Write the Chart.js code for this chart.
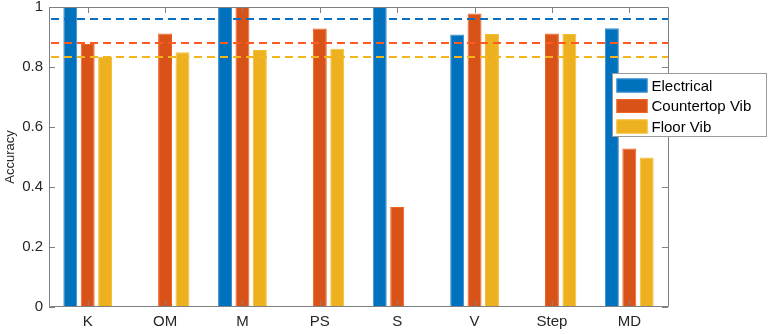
<!DOCTYPE html>
<html><head><meta charset="utf-8">
<script src="https://cdn.jsdelivr.net/npm/chart.js@4/dist/chart.umd.min.js"></script>
<style>html,body{margin:0;padding:0;background:#fff}#wrap{width:768px;height:334px}</style>
</head><body><div id="wrap"><canvas id="c" width="768" height="334"></canvas></div>
<script>
const categories = ['K','OM','M','PS','S','V','Step','MD'];
const seriesNames = ['Electrical','Countertop Vib','Floor Vib'];
const electrical = [1, 0, 1, 0, 1, 0.908, 0, 0.929];
const countertop = [0.877, 0.912, 1, 0.928, 0.333, 0.978, 0.912, 0.528];
const floorVib = [0.834, 0.849, 0.857, 0.861, 0, 0.910, 0.910, 0.498];
const referenceLines = [0.960, 0.879, 0.832];
const yTicks = [0, 0.2, 0.4, 0.6, 0.8, 1];

const fills = ['#0072BD','#D95319','#EDB120'];
const edges = ['#3F8FD0','#F0601E','#F5BE30'];
const dashCols = ['#0A6FC0','#FF5A22','#F2B51C'];
const values = [electrical, countertop, floorVib];

const datasets = values.map((v,i)=>({
  label:seriesNames[i], data:v,
  backgroundColor:fills[i], borderColor:edges[i], borderWidth:1,
  borderSkipped:false, categoryPercentage:0.675, barPercentage:0.8
}));

const FONT = '"Liberation Sans", Arial, sans-serif';

const boxPlugin = {
  id:'boxPlugin',
  afterDatasetsDraw(chart){
    const ctx=chart.ctx, a=chart.chartArea, x=chart.scales.x, y=chart.scales.y;
    ctx.save();
    ctx.beginPath(); ctx.rect(a.left,a.top,a.right-a.left,a.bottom-a.top); ctx.clip();
    referenceLines.forEach((r,i)=>{
      const py=Math.round(y.getPixelForValue(r));
      ctx.strokeStyle=dashCols[i]; ctx.lineWidth=2; ctx.setLineDash([8,5]);
      ctx.beginPath(); ctx.moveTo(a.left+2,py); ctx.lineTo(a.right,py); ctx.stroke();
    });
    ctx.restore();
    ctx.save();
    ctx.setLineDash([]);
    ctx.strokeStyle='#808080'; ctx.lineWidth=1;
    ctx.beginPath();
    ctx.rect(Math.round(a.left)+0.5, Math.round(a.top)+0.5, Math.round(a.right-a.left), Math.round(a.bottom-a.top)-1);
    ctx.stroke();
    const L=6;
    ctx.beginPath();
    categories.forEach((c,i)=>{
      const px=Math.round(x.getPixelForValue(i))+0.5;
      ctx.moveTo(px,a.bottom); ctx.lineTo(px,a.bottom-L);
      ctx.moveTo(px,a.top); ctx.lineTo(px,a.top+L);
    });
    yTicks.forEach(t=>{
      const py=Math.round(y.getPixelForValue(t))+0.5;
      ctx.moveTo(a.left,py); ctx.lineTo(a.left+L,py);
      ctx.moveTo(a.right,py); ctx.lineTo(a.right-L,py);
    });
    ctx.stroke();
    ctx.restore();
  },
  afterDraw(chart){
    const ctx=chart.ctx;
    const bx=612.5, by=73.5, bw=154, bh=63;
    ctx.save();
    ctx.fillStyle='#fff'; ctx.fillRect(bx,by,bw,bh);
    ctx.strokeStyle='#9a9a9a'; ctx.lineWidth=1; ctx.strokeRect(bx,by,bw,bh);
    ctx.font='15px '+FONT; ctx.textBaseline='middle'; ctx.textAlign='left';
    for(let i=0;i<3;i++){
      const ds=chart.data.datasets[i];
      const cy=by+12+i*20.5;
      ctx.fillStyle=ds.backgroundColor; ctx.fillRect(bx+4,cy-7,31,14);
      ctx.strokeStyle=ds.borderColor; ctx.strokeRect(bx+4.5,cy-6.5,30,13);
      ctx.fillStyle='#000'; ctx.fillText(ds.label,bx+39,cy+1);
    }
    ctx.restore();
  }
};

new Chart(document.getElementById('c'),{
  type:'bar',
  data:{labels:categories, datasets},
  options:{
    responsive:false, animation:false, maintainAspectRatio:false,
    layout:{padding:{left:0,right:100,top:7,bottom:0}},
    plugins:{legend:{display:false}, tooltip:{enabled:false}},
    scales:{
      x:{type:'category', offset:true, grid:{display:false, drawTicks:false, tickLength:0}, border:{display:false},
        ticks:{color:'#262626', font:{family:FONT,size:15}, padding:6, maxRotation:0},
        afterFit(s){s.height=27; s.paddingLeft=0; s.paddingRight=0;}},
      y:{type:'linear', min:0, max:1, grid:{display:false, drawTicks:false, tickLength:0}, border:{display:false},
        afterBuildTicks(s){s.ticks=yTicks.map(v=>({value:v}));},
        ticks:{color:'#262626', font:{family:FONT,size:15,lineHeight:1}, padding:6,
          callback:v=>String(v)},
        title:{display:true, text:'Accuracy', color:'#262626', font:{family:FONT,size:13}, padding:{top:3,bottom:0}},
        afterFit(s){s.width=49; s.paddingTop=0; s.paddingBottom=0;}}
    }
  },
  plugins:[boxPlugin]
});
</script></body></html>
